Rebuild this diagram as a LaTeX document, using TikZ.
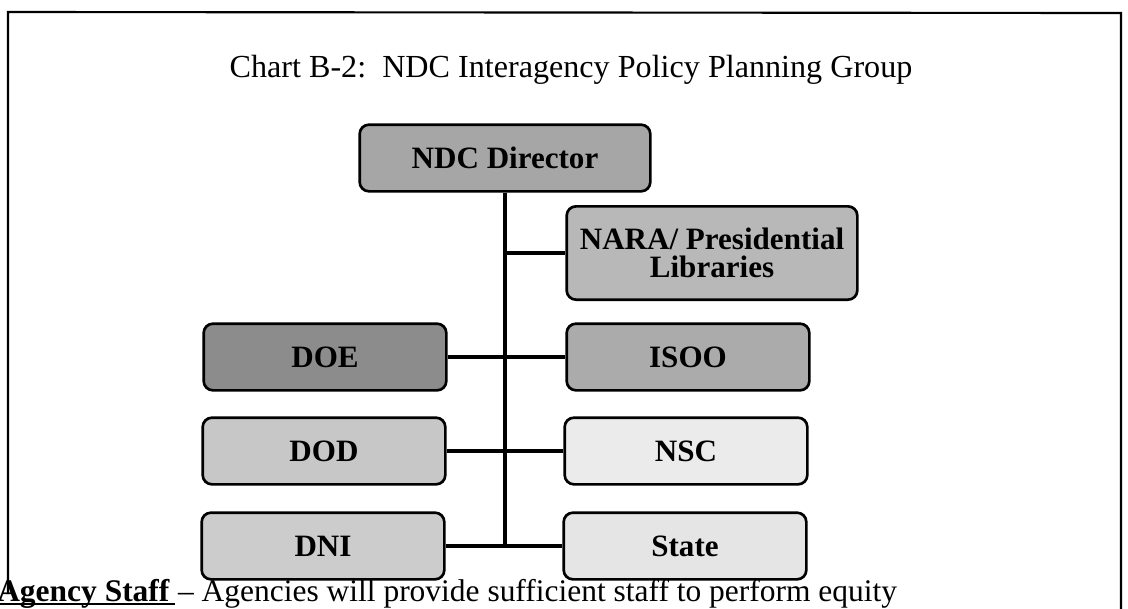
\documentclass[tikz,border=0pt]{standalone}
\usepackage{fontspec}
\setmainfont{Liberation Serif}
\tikzset{
  unit/.style={draw, line width=2pt, rounded corners=7pt, align=center,
    font=\fontsize{23.3}{21.5}\selectfont\bfseries,
    minimum width=182pt, minimum height=50pt, inner sep=2pt},
  wide/.style={unit, minimum width=218pt},
  link/.style={line width=3.6pt},
  note/.style={anchor=base west, inner sep=0pt, font=\fontsize{23.6}{26}\selectfont},
}
\begin{document}
\begin{tikzpicture}[x=0.75pt,y=-0.75pt]
    \useasboundingbox (0,0) rectangle (1128,608);
    % frame, open at the bottom
    \draw[line width=1.6pt] (8,594) -- (8,12) -- (1121,13) -- (1121,612);
    \node[anchor=base, font=\fontsize{24.1}{28}\selectfont] (title) at (571,77)
        {Chart B-2:\ \ NDC Interagency Policy Planning Group};
    % boxes
    \node[wide, fill=black!35] (ndc) at (505,158) {NDC Director};
    \node[wide, fill=black!28, minimum height=70pt] (nara) at (712,253) {NARA/ Presidential\\Libraries};
    \node[unit, fill=black!45] (doe) at (325,357) {DOE};
    \node[unit, fill=black!33] (isoo) at (688,357) {ISOO};
    \node[unit, fill=black!22] (dod) at (324,451) {DOD};
    \node[unit, fill=black!8] (nsc) at (686,451) {NSC};
    \node[unit, fill=black!20] (dni) at (323,546) {DNI};
    \node[unit, fill=black!10] (state) at (685,546) {State};
    % lines
    \draw[link] (ndc.south) -- (ndc.south |- dni.east);
    \draw[link] (ndc.south |- nara.west) -- (nara.west);
    \draw[link] (doe.east) -- (isoo.west);
    \draw[link] (dod.east) -- (nsc.west);
    \draw[link] (dni.east) -- (state.west);
    % text below the chart
    \node[note] (agency) at (-3,601) {\textbf{Agency Staff}};
    \node[note] (rest) at (agency.base east) {\ – Agencies will provide sufficient staff to perform equity};
    \draw[line width=1.3pt] ([yshift=-2.4pt]agency.base west) -- ([xshift=4pt,yshift=-2.4pt]agency.base east);
\end{tikzpicture}
\end{document}
